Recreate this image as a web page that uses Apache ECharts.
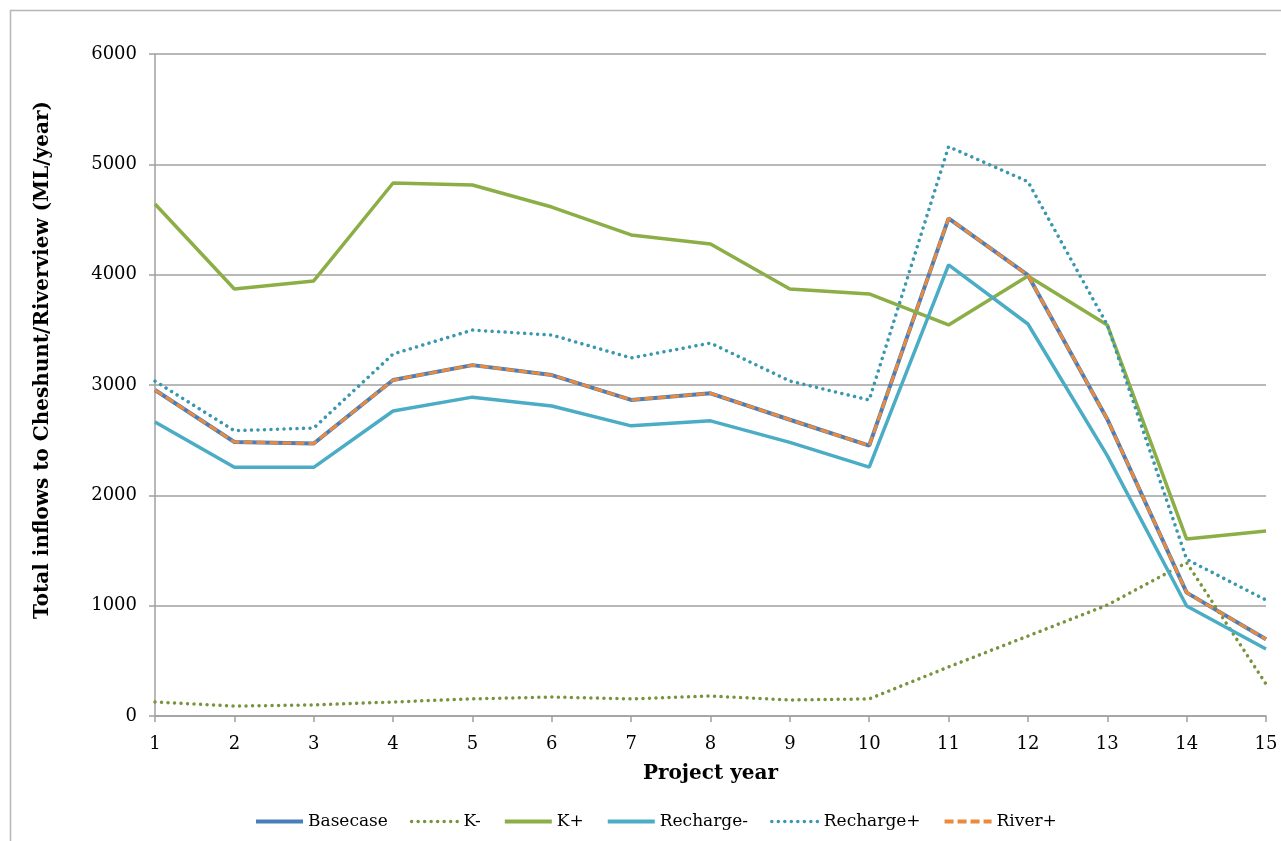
<!DOCTYPE html>
<html>
<head>
<meta charset="utf-8">
<script src="https://cdn.jsdelivr.net/npm/echarts@6/dist/echarts.min.js"></script>
<style>
html,body{margin:0;padding:0;background:#fff;}
#chart{width:1281px;height:841px;}
</style>
</head>
<body>
<div id="chart"></div>
<script>
const years = ['1','2','3','4','5','6','7','8','9','10','11','12','13','14','15'];
const yTicks = [0, 1000, 2000, 3000, 4000, 5000, 6000];
const basecase   = [2955, 2483, 2470, 3045, 3180, 3090, 2865, 2925, 2685, 2450, 4511, 3995, 2690, 1118, 695];
const kMinus     = [127, 90, 100, 127, 155, 172, 155, 181, 145, 155, 445, 725, 1006, 1390, 290];
const kPlus      = [4640, 3870, 3943, 4831, 4813, 4613, 4360, 4278, 3870, 3825, 3544, 3988, 3544, 1604, 1677];
const rechargeM  = [2665, 2254, 2254, 2764, 2890, 2810, 2630, 2675, 2480, 2255, 4088, 3553, 2360, 997, 607];
const rechargeP  = [3035, 2586, 2610, 3281, 3498, 3453, 3245, 3380, 3036, 2864, 5160, 4843, 3545, 1420, 1051];
const riverPlus  = [2955, 2483, 2470, 3045, 3180, 3090, 2865, 2925, 2685, 2450, 4511, 3995, 2690, 1118, 695];

const serif = 'DejaVu Serif';
const chart = echarts.init(document.getElementById('chart'));

function ser(name, data, color, dash, width, cap) {
  return {
    name: name, type: 'line', data: data, symbol: 'none', smooth: false,
    lineStyle: {color: color, width: width, type: dash, cap: cap || 'butt'},
    itemStyle: {color: color},
    emphasis: {disabled: true}
  };
}

chart.setOption({
  animation: false,
  backgroundColor: '#ffffff',
  graphic: [
    {type: 'rect', shape: {x: 10.5, y: 10.5, width: 1300, height: 860},
     style: {fill: 'none', stroke: '#b5b5b5', lineWidth: 1.5}, z: -10, silent: true},
    {type: 'text', x: 43, y: 360, rotation: Math.PI / 2,
     style: {text: 'Total inflows to Cheshunt/Riverview (ML/year)', font: 'bold 20px "DejaVu Serif"',
             fill: '#000', align: 'center', verticalAlign: 'middle'}, silent: true}
  ],
  grid: {left: 155, right: 15, top: 54, bottom: 125, containLabel: false},
  legend: {
    top: 808, left: 249,
    itemWidth: 47, itemHeight: 18, itemGap: 22,
    itemStyle: {opacity: 0},
    textStyle: {fontFamily: serif, fontSize: 17, color: '#000'},
    data: [
      {name: 'Basecase', lineStyle: {width: 4}},
      {name: 'K-', lineStyle: {width: 3.5}},
      {name: 'K+', lineStyle: {width: 4}},
      {name: 'Recharge-', lineStyle: {width: 4}},
      {name: 'Recharge+', lineStyle: {width: 3.5}},
      {name: 'River+', lineStyle: {width: 4}}
    ]
  },
  xAxis: {
    type: 'category', data: years, boundaryGap: false,
    name: 'Project year', nameLocation: 'middle', nameGap: 48,
    nameTextStyle: {fontFamily: serif, fontWeight: 'bold', fontSize: 20, color: '#000'},
    axisLine: {lineStyle: {color: '#a0a0a0', width: 1.5}},
    axisTick: {show: true, alignWithLabel: true, length: 6, lineStyle: {color: '#a0a0a0', width: 1.5}},
    axisLabel: {fontFamily: serif, fontSize: 18, color: '#000', margin: 19},
    splitLine: {show: false}
  },
  yAxis: {
    type: 'value', min: 0, max: 6000, interval: 1000,
    axisLine: {show: true, lineStyle: {color: '#a0a0a0', width: 1.5}},
    axisTick: {show: true, length: 6, lineStyle: {color: '#a0a0a0', width: 1.5}},
    axisLabel: {fontFamily: serif, fontSize: 18, color: '#000', margin: 18,
                formatter: v => yTicks.includes(v) ? String(v) : ''},
    splitLine: {show: true, lineStyle: {color: '#a0a0a0', width: 1.5}}
  },
  series: [
    ser('Basecase', basecase, '#4a7ebb', 'solid', 4),
    ser('K-', kMinus, '#77933c', [0.01, 6.5], 3.5, 'round'),
    ser('K+', kPlus, '#8cae46', 'solid', 3.5),
    ser('Recharge-', rechargeM, '#4bacc6', 'solid', 3.5),
    ser('Recharge+', rechargeP, '#3a97b0', [0.01, 6.5], 3.5, 'round'),
    ser('River+', riverPlus, '#e98a3c', [9, 4], 3)
  ]
});
</script>
</body>
</html>
